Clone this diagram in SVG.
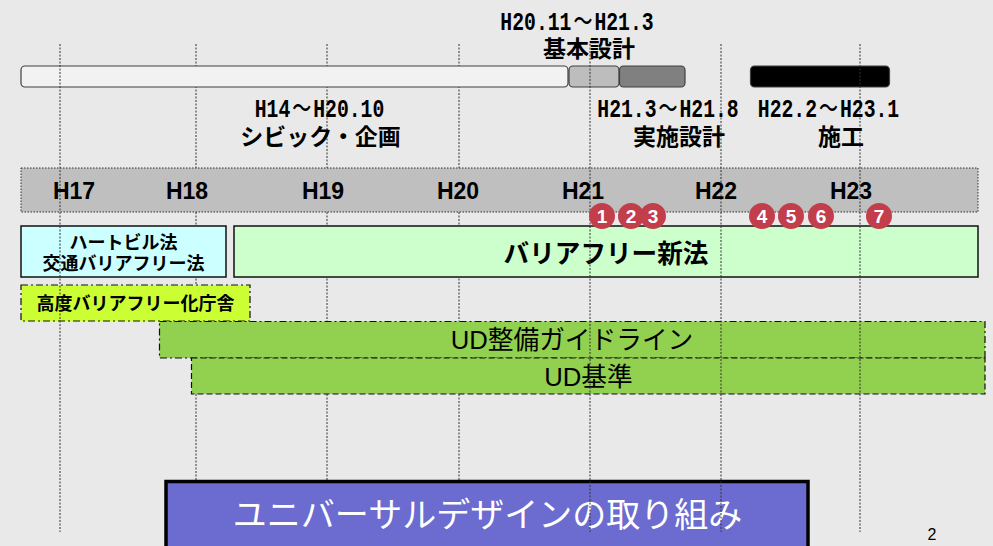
<svg xmlns="http://www.w3.org/2000/svg" width="993" height="546" viewBox="0 0 993 546">
<style>
.bar{stroke:#404040;stroke-width:1.2}
.grid{stroke:#333;stroke-width:1;stroke-dasharray:2 1.5;fill:none}
.lat{font-family:"Liberation Mono","Noto Sans CJK JP",monospace;font-weight:700;font-size:26px;fill:#000;text-anchor:middle}
.wave2{font-family:"Noto Sans CJK JP",sans-serif;font-size:25px;font-weight:500}
.jp{font-family:"Noto Sans CJK JP",sans-serif;font-weight:700;fill:#000;text-anchor:middle}
.yr{font-family:"Liberation Sans",sans-serif;font-weight:700;font-size:23px;fill:#000;text-anchor:middle}
.num circle{fill:#c33e4b}
.num text{font-family:"Liberation Sans",sans-serif;font-weight:700;font-size:19px;fill:#fff;text-anchor:middle}
.dd{stroke:#111;stroke-width:1.2;stroke-dasharray:7 3 2 3}
.ud{font-family:"Liberation Sans","Noto Sans CJK JP",sans-serif;font-size:25.700px;fill:#000;text-anchor:middle}
</style>
<rect width="993" height="546" fill="#e9e9e9"/>
<g id="grid-back" class="grid">
<path d="M196 44V532M327 44V532M459 44V532"/>
</g>
<g id="band"><rect x="21" y="168" width="957" height="44" fill="#bfbfbf" stroke="#333" stroke-dasharray="1.5 1.5"/></g>
<g id="schedule">
<rect class="bar" x="21" y="66" width="547" height="21" rx="4" fill="#f2f2f2"/>
<rect class="bar" x="569" y="66" width="50" height="21" rx="4" fill="#bdbdbd"/>
<rect class="bar" x="619.500" y="66" width="65.500" height="21" rx="4" fill="#808080"/>
<rect class="bar" x="750.500" y="66" width="139" height="21" rx="4" fill="#000"/>
</g>
<g id="law-heartbuild"><rect x="21" y="226" width="205" height="51" fill="#ccffff" stroke="#111" stroke-width="1.500"/>
<text class="jp" x="123.500" y="249" font-size="18">ハートビル法</text>
<text class="jp" x="123.500" y="270" font-size="18">交通バリアフリー法</text></g>
<g id="law-new"><rect x="234" y="226" width="744" height="51" fill="#ccffcc" stroke="#111" stroke-width="1.500"/>
<text class="jp" x="606" y="263" font-size="25.600">バリアフリー新法</text></g>
<g id="law-gov"><rect class="dd" x="21" y="285" width="229" height="36" fill="#ccff33"/>
<text class="jp" x="135.500" y="310" font-size="18">高度バリアフリー化庁舎</text></g>
<g id="ud-guide"><rect class="dd" x="159.500" y="321.500" width="825.500" height="36.500" fill="#92d050"/>
<text class="ud" x="572" y="349">UD整備ガイドライン</text></g>
<g id="ud-std"><rect x="191.500" y="358" width="793.500" height="36" fill="#92d050" stroke="#111" stroke-width="1.200" stroke-dasharray="6 3"/>
<text class="ud" x="588.500" y="386">UD基準</text></g>
<g id="title"><rect x="166" y="481.500" width="642" height="70" fill="#6b6bd0" stroke="#000" stroke-width="3.500"/>
<text x="487.500" y="527" font-family="'Liberation Sans','Noto Sans CJK JP',sans-serif" font-size="34" fill="#fff" text-anchor="middle">ユニバーサルデザインの取り組み</text></g>
<g id="grid-front" class="grid">
<path d="M60 44V532M590 44V532M721 44V532M860 44V532"/>
</g>
<g id="years">
<text class="yr" x="74" y="199">H17</text>
<text class="yr" x="187" y="199">H18</text>
<text class="yr" x="323" y="199">H19</text>
<text class="yr" x="458" y="199">H20</text>
<text class="yr" x="583" y="199">H21</text>
<text class="yr" x="716" y="199">H22</text>
<text class="yr" x="851" y="199">H23</text>
</g>
<g id="labels">
<text class="lat" transform="translate(319.500 117) scale(.76 1)">H14<tspan class="wave2" dx="2.600">～</tspan><tspan dx="2.600">H20.10</tspan></text>
<text class="jp" x="320.500" y="145" font-size="23">シビック・企画</text>
<text class="lat" transform="translate(577 30) scale(.76 1)">H20.11<tspan class="wave2" dx="2.600">～</tspan><tspan dx="2.600">H21.3</tspan></text>
<text class="jp" x="589" y="57" font-size="23">基本設計</text>
<text class="lat" transform="translate(668 117) scale(.76 1)">H21.3<tspan class="wave2" dx="2.600">～</tspan><tspan dx="2.600">H21.8</tspan></text>
<text class="jp" x="679" y="145" font-size="23">実施設計</text>
<text class="lat" transform="translate(828.500 117) scale(.76 1)">H22.2<tspan class="wave2" dx="2.600">～</tspan><tspan dx="2.600">H23.1</tspan></text>
<text class="jp" x="841" y="145" font-size="23">施工</text>
</g>
<g id="markers" class="num">
<g id="m1"><circle cx="602" cy="216" r="13"/><text x="602" y="222.500">1</text></g>
<g id="m2"><circle cx="631" cy="216" r="13"/><text x="631" y="222.500">2</text></g>
<g id="m3"><circle cx="653" cy="216" r="13"/><text x="653" y="222.500">3</text></g>
<g id="m4"><circle cx="762" cy="216" r="13"/><text x="762" y="222.500">4</text></g>
<g id="m5"><circle cx="791" cy="216" r="13"/><text x="791" y="222.500">5</text></g>
<g id="m6"><circle cx="821" cy="216" r="13"/><text x="821" y="222.500">6</text></g>
<g id="m7"><circle cx="879" cy="216" r="13"/><text x="879" y="222.500">7</text></g>
</g>
<text id="page" x="932" y="540" font-family="Liberation Sans,sans-serif" font-size="16" fill="#000" text-anchor="middle">2</text>
</svg>
